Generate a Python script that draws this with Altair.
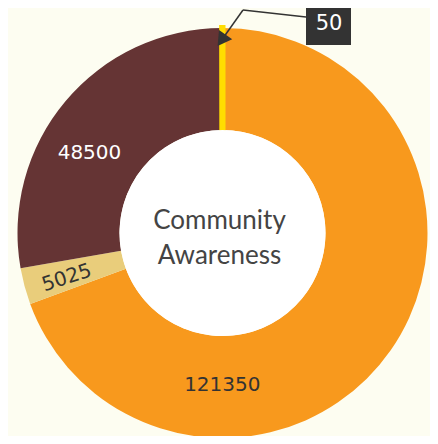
import math
import altair as alt
import pandas as pd

# ---- data ----
categories = ["Segment A", "Segment B", "Segment C", "Segment D"]
values = [121350, 5025, 48500, 50]
colors = ["#F8991D", "#E9CD7B", "#653434", "#FFDD00"]
label_colors = ["#333333", "#333333", "#FFFFFF", "#FFFFFF"]
center_lines = ["Community", "Awareness"]
callout_text = "50"

FONT = "Lato"
NUM_FONT = "DejaVu Sans"
BG = "#FDFDF1"
W, H = 422, 428
CX, CY = 214.5, 225.0
R_OUT, R_IN = 205, 103

df = pd.DataFrame({"cat": categories, "value": values, "order": list(range(len(values)))})
color_scale = alt.Scale(domain=categories, range=colors)

base = alt.Chart(df)

donut = base.mark_arc(
    innerRadius=R_IN, outerRadius=R_OUT, x=CX, y=CY, stroke=colors[3]
).encode(
    theta=alt.Theta("value:Q", stack=True),
    order=alt.Order("order:Q"),
    color=alt.Color("cat:N", scale=color_scale, legend=None),
    strokeWidth=alt.condition(alt.datum.cat == categories[3], alt.value(6), alt.value(0)),
)

stacked = base.transform_window(
    cum="sum(value)", sort=[alt.SortField("order")], frame=[None, 0]
).transform_calculate(mid="datum.cum - datum.value / 2")


def label(i, dtheta_deg, radius, size, angle=0):
    return stacked.transform_filter(alt.datum.cat == categories[i]).mark_text(
        x=CX, y=CY, radius=radius, thetaOffset=math.radians(dtheta_deg),
        fontSize=size, font=NUM_FONT, color=label_colors[i], angle=angle,
        align="center", baseline="middle",
    ).encode(
        theta=alt.Theta("mid:Q"),
        text=alt.Text("value:Q", format="d"),
    )


lab0 = label(0, 55.2, 152, 20)
lab1 = label(1, -1.0, 162, 20, angle=342)
lab2 = label(2, -9.1, 155, 20)

hole = alt.Chart(pd.DataFrame({"k": [0]})).mark_arc(
    x=CX, y=CY, outerRadius=R_IN, innerRadius=0, color="#FFFFFF"
).encode(theta=alt.value(0), theta2=alt.value(2 * math.pi))

center = alt.Chart(pd.DataFrame({"t": ["\n".join(center_lines)]})).mark_text(
    x=CX - 3, y=CY - 4, lineBreak="\n", lineHeight=35, fontSize=26, font=FONT,
    color="#444444", align="center", baseline="alphabetic",
).encode(text="t:N")

# ---- callout for the tiny slice ----
one = alt.Chart(pd.DataFrame({"k": [0]}))
box = one.mark_rect(color="#333333").encode(
    x=alt.value(CX + 83.5), x2=alt.value(CX + 128.5),
    y=alt.value(0), y2=alt.value(37),
)
box_text = one.mark_text(
    fontSize=21, font=NUM_FONT, color="#FFFFFF", align="center", baseline="middle"
).encode(x=alt.value(CX + 106.5), y=alt.value(16), text=alt.value(callout_text))
seg1 = one.mark_rule(color="#333333", strokeWidth=1.5).encode(
    x=alt.value(CX + 83.5), y=alt.value(9), x2=alt.value(CX + 20.5), y2=alt.value(2)
)
tip_x, tip_y = CX - 5.5, 39.0
seg2 = one.mark_rule(color="#333333", strokeWidth=1.5).encode(
    x=alt.value(CX + 20.5), y=alt.value(2), x2=alt.value(tip_x + 4), y2=alt.value(tip_y - 6)
)
head = one.mark_point(
    shape="triangle-up", filled=True, color="#333333", opacity=1, size=260, angle=215,
    strokeWidth=0,
).encode(x=alt.value(tip_x + 4.6), y=alt.value(tip_y - 6.6))

chart = alt.layer(
    donut, hole, lab0, lab1, lab2, center, seg1, seg2, head, box, box_text
).properties(
    width=W, height=H, autosize=alt.AutoSizeParams(type="none"), padding=0,
    background=BG,
).configure_view(strokeWidth=0)

chart.save("out.html", embed_options={"renderer": "svg", "actions": False})
